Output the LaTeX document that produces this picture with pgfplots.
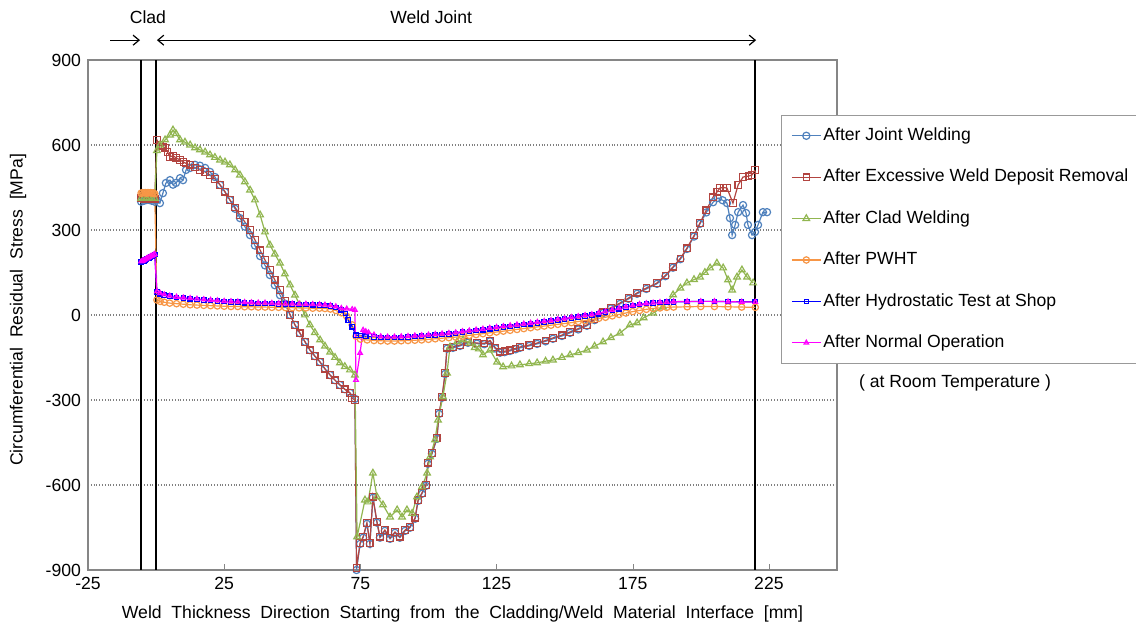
\documentclass[border=0pt]{standalone}
\usepackage{fontspec}
\setmainfont{Liberation Sans}
\usepackage{pgfplots}
\pgfplotsset{compat=1.18}
\usetikzlibrary{arrows.meta}
\definecolor{cJoint}{RGB}{79,129,189}
\definecolor{cExc}{RGB}{178,68,64}
\definecolor{cClad}{RGB}{145,182,80}
\definecolor{cPWHT}{RGB}{247,150,70}
\definecolor{cHyd}{RGB}{0,0,255}
\definecolor{cNorm}{RGB}{255,0,255}
\definecolor{cAxis}{RGB}{134,134,134}
\newcommand{\myfont}{\fontsize{8.8}{10.5}\selectfont}
\begin{document}
\begin{tikzpicture}
\path[use as bounding box] (-44pt,-27.5pt) rectangle (524pt,285pt);
\begin{axis}[
  scale only axis, width=374.5pt, height=255pt,
  at={(0,0)}, anchor=south west,
  xmin=-25, xmax=250, ymin=-900, ymax=900,
  xtick={-25,25,...,225}, ytick={-900,-600,...,900},
  ymajorgrids, major grid style={densely dotted, gray, line width=0.6pt},
  axis line style={cAxis, line width=0.6pt},
  tick align=inside, xtick pos=bottom, xtick style={cAxis}, ytick style={draw=none},
  major tick length=3pt,
  tick label style={font=\myfont},
  /pgf/number format/assume math mode=true,
  clip=false,
  xlabel={Weld\ \ Thickness\ \ Direction\ \ Starting\ \ from\ \ the\ \ Cladding/Weld\ \ Material\ \ Interface\ \ [mm]},
  ylabel={Circumferential\ \ Residual\ \ Stress\ \ [MPa]},
  xlabel style={at={(axis description cs:0.5,-0.086)}, anchor=center, font=\myfont},
  ylabel style={at={(axis description cs:-0.0935,0.51)}, anchor=center, font=\myfont},
  legend cell align=left,
  legend style={at={(axis description cs:0.925,0.892)}, anchor=north west,
    draw=gray!80, fill=white, font=\myfont, inner xsep=5pt, inner ysep=5pt,
    row sep=10.4pt, nodes={inner sep=1pt, text height=6.5pt, text depth=1.8pt}},
  legend image code/.code={\draw[mark repeat=2,mark phase=2,#1] plot coordinates {(0pt,0pt) (7.25pt,0pt) (14.5pt,0pt)};},
]
% reference lines
\addplot[forget plot, black, line width=0.8pt] coordinates {(-5.5,-900) (-5.5,900)};
\addplot[forget plot, black, line width=0.8pt] coordinates {(0,-900) (0,900)};
\addplot[forget plot, black, line width=0.8pt] coordinates {(220,-900) (220,900)};

% After Joint Welding
\addplot[cJoint, line width=0.6pt, mark=o, mark size=1.8pt, mark options={solid}] table {
x y
-5.5 400
-4.5 403
-3.5 406
-2.5 406
-1.5 403
-0.5 400
0.3 406
1.4 395
2.5 430
3.6 466
5.1 476
6.2 460
7.3 466
8.8 483
9.9 476
11.0 512
12.5 519
14.3 530
16.1 527
18.0 519
19.8 505
21.6 487
23.5 459
25.3 434
27.1 406
29.0 375
30.8 342
32.6 312
34.5 282
36.3 245
38.2 208
40.0 175
41.8 141
43.6 105
45.5 70
47.3 40
49.2 0
51.0 -35
52.8 -64
54.7 -95
56.5 -124
58.3 -145
60.2 -166
62.0 -190
63.9 -212
65.7 -230
67.5 -247
69.3 -262
71.2 -275
73.0 -296
73.6 -900
74.9 -808
76.0 -786
77.4 -737
78.5 -808
79.6 -645
81.1 -733
82.2 -786
84.0 -762
85.9 -790
87.7 -769
89.5 -786
91.4 -762
93.2 -751
95.1 -719
96.2 -656
97.6 -631
99.1 -603
99.8 -525
101.3 -490
103.1 -437
103.9 -349
105.0 -292
106.1 -208
106.8 -119
109.0 -116
111.6 -109
114.5 -98
117.8 -101
120.5 -103
122.6 -93
124.5 -118
126.3 -133
128.0 -131
129.9 -127
132.0 -121
133.6 -116
137.0 -109
139.9 -102
143.0 -93
145.7 -84
149.0 -74
152.0 -63
155.0 -51
158.2 -38
161.0 -18
164.1 7
167.0 23
170.3 39
173.5 57
176.6 75
180.0 92
183.9 110
187.0 137
189.8 167
192.5 197
194.9 233
197.5 277
199.7 322
202.0 362
204.5 398
206.3 413
208.0 405
209.6 395
210.7 342
211.5 282
212.6 318
213.7 363
215.5 388
216.6 360
217.3 318
218.8 282
219.9 293
221.0 318
222.8 363
224.3 363
};
\addlegendentry{After Joint Welding}

% After Excessive Weld Deposit Removal
\addplot[cExc, line width=0.6pt, mark=square, mark size=1.6pt, mark options={solid}] table {
x y
-5.5 412
-4.5 410
-3.5 412
-2.5 410
-1.5 412
-0.5 410
0.3 618
1.4 600
2.5 595
3.3 590
4.2 575
5.1 558
6.2 562
7.3 555
8.8 547
10.0 540
11.0 535
12.5 530
14.3 520
16.1 512
18.0 505
19.8 494
21.6 480
23.5 459
25.3 435
27.1 406
29.0 380
30.8 353
32.6 328
34.5 300
36.3 265
38.2 229
40.0 194
41.8 159
43.6 124
45.5 88
47.3 50
49.2 0
51.0 -35
52.8 -64
54.7 -95
56.5 -124
58.3 -145
60.2 -166
62.0 -190
63.9 -212
65.7 -230
67.5 -247
69.3 -262
71.2 -275
71.9 -293
73.0 -300
73.6 -893
74.9 -805
76.0 -783
77.4 -734
78.5 -805
79.6 -642
81.1 -730
82.2 -783
84.0 -759
85.9 -787
87.7 -766
89.5 -783
91.4 -759
93.2 -748
95.1 -716
96.2 -653
97.6 -628
99.1 -600
99.8 -522
101.3 -487
103.1 -434
103.9 -346
105.0 -289
106.1 -205
106.8 -116
109.0 -113
111.6 -106
114.5 -95
117.8 -99
120.5 -100
122.6 -90
124.5 -115
126.3 -130
128.0 -128
129.9 -124
132.0 -118
133.6 -113
137.0 -106
139.9 -99
143.0 -90
145.7 -81
149.0 -71
152.0 -60
155.0 -48
158.2 -35
161.0 -15
164.1 10
167.0 26
170.3 42
173.5 60
176.6 78
180.0 95
183.9 113
187.0 140
189.8 170
192.5 200
194.9 236
197.5 280
199.7 325
202.0 370
204.5 416
206.0 435
207.0 448
208.3 450
209.6 448
211.8 395
213.7 459
215.5 487
217.5 490
218.8 494
219.9 512
};
\addlegendentry{After Excessive Weld Deposit Removal}

% After Clad Welding
\addplot[cClad, line width=0.6pt, mark=triangle, mark size=1.9pt, mark options={solid}] table {
x y
-5.5 412
-4.5 414
-3.5 412
-2.5 414
-1.5 412
-0.5 412
0.3 580
1.4 600
3.3 618
5.1 635
6.2 653
7.3 640
8.8 618
10.6 610
12.5 600
14.3 590
16.1 583
18.0 575
19.8 565
21.6 556
23.5 547
25.3 540
27.1 530
29.0 512
30.8 494
32.6 470
34.5 441
36.3 406
38.2 353
40.0 293
41.8 247
43.6 215
45.5 183
47.3 145
49.2 106
51.0 70
52.8 35
54.7 0
56.5 -35
58.3 -62
60.2 -88
62.0 -110
63.9 -131
65.7 -150
67.5 -169
69.3 -182
71.2 -194
73.0 -212
73.8 -783
76.7 -653
77.8 -660
79.6 -558
81.1 -642
83.3 -670
85.9 -713
88.5 -688
90.3 -713
92.1 -688
94.0 -700
95.8 -642
97.6 -607
99.5 -558
100.6 -501
102.4 -441
103.5 -371
105.3 -289
106.8 -205
107.9 -113
110.5 -95
112.7 -88
115.3 -99
117.0 -115
118.5 -120
120.0 -141
122.6 -124
125.2 -166
127.4 -183
130.5 -180
133.6 -176
137.0 -172
139.9 -169
143.0 -163
145.7 -159
149.0 -150
152.0 -141
155.0 -133
158.2 -124
161.0 -110
164.1 -95
167.0 -80
170.3 -64
174.0 -35
176.6 -28
179.0 -10
182.5 7
186.1 28
189.8 71
192.5 95
194.9 113
197.5 125
199.7 134
201.5 150
203.4 166
205.9 183
208.2 166
210.0 124
211.5 88
213.3 134
215.1 159
217.0 134
219.2 113
};
\addlegendentry{After Clad Welding}

% After PWHT
\addplot[cPWHT, line width=0.6pt, mark=o, mark size=1.6pt, mark options={solid}] table {
x y
-5.5 430
-5.0 432
-4.5 431
-4.0 432
-3.5 430
-3.0 432
-2.5 431
-2.0 432
-1.5 430
-1.0 431
-0.5 428
0.3 53
1.5 48
3.0 45
5.0 42
7.5 40
10.0 38
12.5 36
15.0 35
17.5 34
20.0 33
22.5 32
25.0 31
27.5 30
30.0 30
32.5 29
35.0 29
37.5 28
40.0 28
42.5 27
45.0 27
47.5 26
50.0 26
52.5 25
55.0 25
57.5 24
60.0 24
62.0 23
64.0 21
66.0 16
68.0 8
70.0 -5
72.0 -35
73.4 -75
75.0 -85
77.5 -88
80.0 -90
82.5 -91
85.0 -92
87.5 -92
90.0 -91
92.5 -90
95.0 -89
97.5 -88
100.0 -86
102.5 -84
105.0 -82
107.5 -80
110.0 -78
112.5 -75
115.0 -72
117.5 -69
120.0 -66
122.5 -63
125.0 -60
127.5 -57
130.0 -54
132.5 -51
135.0 -48
137.5 -45
140.0 -42
142.5 -39
145.0 -36
147.5 -33
150.0 -30
152.5 -27
155.0 -23
157.5 -20
160.0 -16
162.5 -12
165.0 -8
167.5 -3
170.0 2
172.5 7
175.0 12
177.5 16
180.0 20
182.5 23
185.0 25
187.5 27
190.0 28
195.0 29
200.0 30
205.0 30
210.0 29
215.0 28
220.0 27
};
\addlegendentry{After PWHT}

% After Hydrostatic Test at Shop
\addplot[cHyd, line width=0.6pt, mark=square, mark size=1.1pt, mark options={solid}] table {
x y
-5.5 187
-5.0 189
-4.5 191
-4.0 194
-3.5 197
-3.0 200
-2.5 202
-2.0 205
-1.5 207
-1.0 210
-0.5 213
0.3 81
1.5 75
3.0 70
5.0 66
7.5 62
10.0 59
12.5 57
15.0 55
17.5 53
20.0 51
22.5 49
25.0 47
27.5 46
30.0 45
32.5 43
35.0 42
37.5 41
40.0 41
42.5 40
45.0 39
47.5 38
50.0 38
52.5 37
55.0 37
57.5 36
60.0 35
62.0 34
64.0 32
66.0 27
68.0 18
69.5 5
70.5 -18
72.0 -42
73.4 -71
75.0 -72
77.0 -75
80.0 -78
82.5 -79
85.0 -80
87.5 -80
90.0 -79
92.5 -78
95.0 -76
97.5 -75
100.0 -73
102.5 -71
105.0 -69
107.5 -67
110.0 -65
112.5 -61
115.0 -58
117.5 -55
120.0 -52
122.5 -49
125.0 -46
127.5 -43
130.0 -40
132.5 -37
135.0 -34
137.5 -31
140.0 -28
142.5 -25
145.0 -22
147.5 -18
150.0 -15
152.5 -11
155.0 -8
157.5 -4
160.0 -1
162.5 4
165.0 10
167.5 16
170.0 22
172.5 28
175.0 33
177.5 37
180.0 40
182.5 42
185.0 44
187.5 45
190.0 46
195.0 47
200.0 48
205.0 48
210.0 47
215.0 47
220.0 47
};
\addlegendentry{After Hydrostatic Test at Shop}

% After Normal Operation
\addplot[cNorm, line width=0.6pt, mark=triangle, mark size=1.3pt, mark options={solid}] table {
x y
-5.5 189
-5.0 191
-4.5 193
-4.0 196
-3.5 199
-3.0 202
-2.5 204
-2.0 207
-1.5 209
-1.0 212
-0.5 215
0.3 83
1.5 77
3.0 72
5.0 68
7.5 64
10.0 61
12.5 59
15.0 57
17.5 55
20.0 53
22.5 51
25.0 49
27.5 48
30.0 47
32.5 45
35.0 44
37.5 43
40.0 43
42.5 42
45.0 41
47.5 40
50.0 40
52.5 39
55.0 39
57.5 38
60.0 37
62.0 36
64.0 34
66.0 30
68.0 24
70.0 22
72.0 20
73.0 18
73.4 -229
74.9 -134
76.0 -53
77.0 -58
78.0 -62
80.0 -70
82.5 -76
85.0 -77
87.5 -77
90.0 -76
92.5 -75
95.0 -73
97.5 -72
100.0 -70
102.5 -68
105.0 -66
107.5 -64
110.0 -62
112.5 -58
115.0 -55
117.5 -52
120.0 -49
122.5 -46
125.0 -43
127.5 -40
130.0 -37
132.5 -34
135.0 -31
137.5 -28
140.0 -25
142.5 -22
145.0 -19
147.5 -15
150.0 -12
152.5 -8
155.0 -5
157.5 -1
160.0 2
162.5 7
165.0 12
167.5 18
170.0 24
172.5 29
175.0 34
177.5 38
180.0 41
182.5 43
185.0 45
187.5 46
190.0 47
195.0 48
200.0 48
205.0 48
210.0 47
215.0 46
220.0 46
};
\addlegendentry{After Normal Operation}

% annotations above the plot
\draw[black, line width=0.6pt, -{Straight Barb[length=3pt,width=5pt]}] (axis cs:-16.9,970) -- (axis cs:-5.9,970);
\draw[black, line width=0.6pt, {Straight Barb[length=3pt,width=5pt]}-{Straight Barb[length=3pt,width=5pt]}] (axis cs:0.3,970) -- (axis cs:220.3,970);
\node[font=\myfont] at (axis cs:-3,1050) {Clad};
\node[font=\myfont] at (axis cs:101,1052) {Weld Joint};
\node[font=\myfont] at (axis description cs:1.1576,0.3667) {( at Room Temperature )};
\end{axis}
\end{tikzpicture}
\end{document}
